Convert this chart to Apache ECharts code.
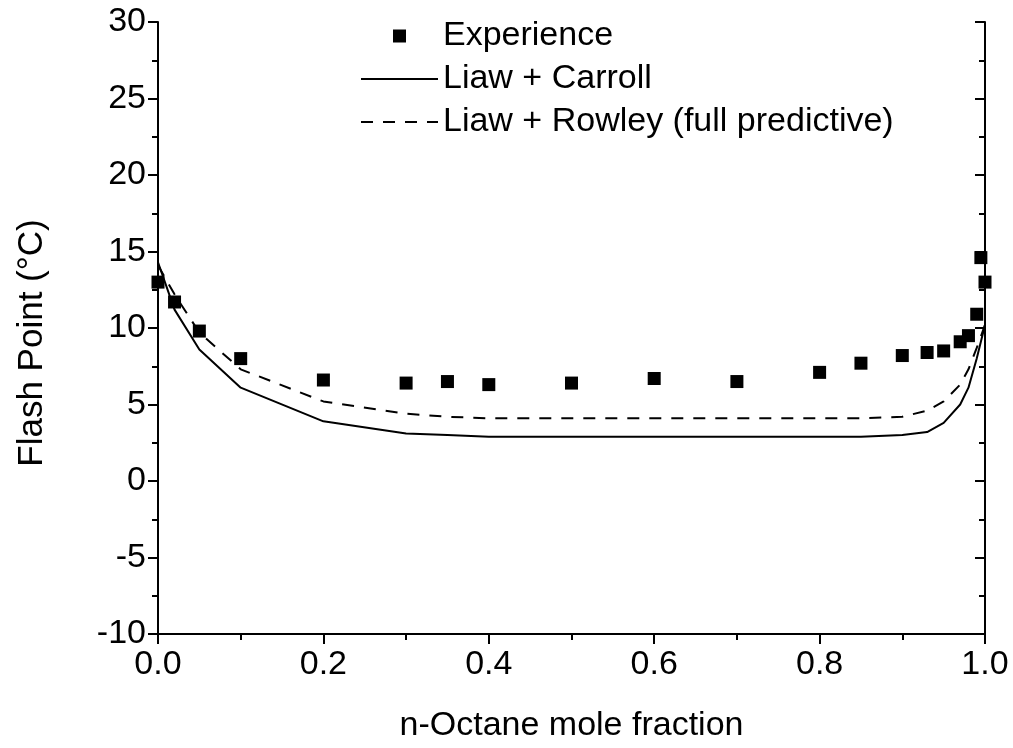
<!DOCTYPE html>
<html>
<head>
<meta charset="utf-8">
<script src="https://cdn.jsdelivr.net/npm/echarts@6/dist/echarts.min.js"></script>
<style>
html,body{margin:0;padding:0;background:#fff;}
#chart{width:1013px;height:748px;}
</style>
</head>
<body>
<div id="chart"></div>
<script>
// Experimental data
const xExp = [0, 0.02, 0.05, 0.1, 0.2, 0.3, 0.35, 0.4, 0.5, 0.6, 0.7, 0.8, 0.85, 0.9, 0.93, 0.95, 0.97, 0.98, 0.99, 0.995, 1.0];
const yExp = [13.0, 11.7, 9.8, 8.0, 6.6, 6.4, 6.5, 6.3, 6.4, 6.7, 6.5, 7.1, 7.7, 8.2, 8.4, 8.5, 9.1, 9.5, 10.9, 14.6, 13.0];
// Model curves
const xModel = [0, 0.02, 0.05, 0.1, 0.2, 0.3, 0.35, 0.4, 0.5, 0.6, 0.7, 0.8, 0.85, 0.9, 0.93, 0.95, 0.97, 0.98, 0.99, 1.0];
const yCarroll = [14.3, 11.2, 8.6, 6.1, 3.9, 3.1, 3.0, 2.9, 2.9, 2.9, 2.9, 2.9, 2.9, 3.0, 3.2, 3.8, 5.0, 6.1, 8.0, 10.2];
const yRowley = [14.1, 12.2, 9.7, 7.3, 5.2, 4.4, 4.2, 4.1, 4.1, 4.1, 4.1, 4.1, 4.1, 4.2, 4.6, 5.2, 6.3, 7.3, 8.7, 10.2];
// Axis ticks
const xTicks = [0, 0.2, 0.4, 0.6, 0.8, 1.0];
const yTicks = [-10, -5, 0, 5, 10, 15, 20, 25, 30];

const names = ['Experience', 'Liaw + Carroll', 'Liaw + Rowley (full predictive)'];
const FONT = 'Liberation Sans, Arial, sans-serif';
const FS = 34;

const zip = (xs, ys) => xs.map((x, i) => [x, ys[i]]);

const chart = echarts.init(document.getElementById('chart'));
const axisCommon = {
  axisLine: {show: true, onZero: false, lineStyle: {color: '#000', width: 2}},
  axisTick: {show: true, length: 10, lineStyle: {color: '#000', width: 2}},
  minorTick: {show: true, splitNumber: 2, length: 6, lineStyle: {color: '#000', width: 2}},
  splitLine: {show: false},
  minorSplitLine: {show: false}
};
chart.setOption({
  animation: false,
  backgroundColor: '#fff',
  textStyle: {fontFamily: FONT},
  grid: {left: 158, right: 28, top: 22, bottom: 114, containLabel: false},
  legend: {
    orient: 'vertical',
    left: 360,
    top: 19,
    padding: 0,
    itemGap: 9,
    itemWidth: 77,
    itemHeight: 13,
    textStyle: {fontSize: FS, color: '#000', fontFamily: FONT},
    data: [
      {name: names[0], icon: 'path://M0,0L1,0L1,1L0,1Z', itemStyle: {color: '#000', opacity: 1}},
      {name: names[1], itemStyle: {opacity: 0}},
      {name: names[2], itemStyle: {opacity: 0}}
    ]
  },
  xAxis: Object.assign({
    type: 'value', min: xTicks[0], max: xTicks[xTicks.length - 1], interval: 0.2,
    name: 'n-Octane mole fraction', nameLocation: 'middle', nameGap: 75,
    nameTextStyle: {fontSize: FS, color: '#000', fontFamily: FONT},
    axisLabel: {fontSize: FS, color: '#000', margin: 14, fontFamily: FONT,
      formatter: v => v.toFixed(1)}
  }, axisCommon),
  yAxis: [
    Object.assign({
      type: 'value', position: 'left', min: yTicks[0], max: yTicks[yTicks.length - 1], interval: 5,
      name: 'Flash Point (°C)', nameLocation: 'middle', nameGap: 108,
      nameTextStyle: {fontSize: 35, color: '#000', fontFamily: FONT, padding: [0, 30, 0, 0]},
      axisLabel: {fontSize: FS, color: '#000', margin: 12, fontFamily: FONT}
    }, axisCommon),
    {
      type: 'value', position: 'right', min: yTicks[0], max: yTicks[yTicks.length - 1], interval: 5,
      axisLine: {show: true, onZero: false, lineStyle: {color: '#000', width: 2}},
      axisTick: {show: true, inside: true, length: 10, lineStyle: {color: '#000', width: 2}},
      minorTick: {show: true, splitNumber: 2, length: 6, lineStyle: {color: '#000', width: 2}},
      axisLabel: {show: false},
      splitLine: {show: false}
    }
  ],
  series: [
    {
      name: names[0], type: 'scatter', symbol: 'rect', symbolSize: 13,
      itemStyle: {color: '#000', opacity: 1}, data: zip(xExp, yExp), z: 3
    },
    {
      name: names[1], type: 'line', symbol: 'none', smooth: false,
      lineStyle: {color: '#000', width: 2}, itemStyle: {color: '#000'},
      data: zip(xModel, yCarroll)
    },
    {
      name: names[2], type: 'line', symbol: 'none', smooth: false,
      lineStyle: {color: '#000', width: 2, type: [12, 10]}, itemStyle: {color: '#000'},
      data: zip(xModel, yRowley)
    }
  ]
});
</script>
</body>
</html>
